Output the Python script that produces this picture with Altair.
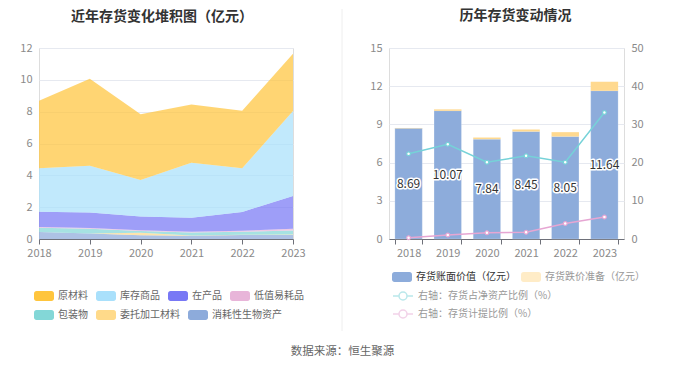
import altair as alt
import pandas as pd

years = ["2018", "2019", "2020", "2021", "2022", "2023"]

# left chart: inventory composition (亿元); legend row 1 and row 2
top_names = ["原材料", "库存商品", "在产品", "低值易耗品"]
top_colors = ["#FFC53D", "#A9E0FB", "#7878F5", "#E8B5D9"]
bottom_names = ["包装物", "委托加工材料", "消耗性生物资产"]
bottom_colors = ["#83D7D7", "#FFDA8A", "#8DABDB"]
raw_material = [4.25, 5.47, 4.14, 3.66, 3.60, 3.60]
finished_goods = [2.73, 2.93, 2.28, 3.45, 2.75, 5.34]
work_in_progress = [0.95, 0.98, 0.87, 0.88, 1.18, 2.05]
low_value = [0.05, 0.05, 0.05, 0.05, 0.06, 0.12]
packaging = [0.27, 0.30, 0.10, 0.19, 0.19, 0.25]
consigned = [0.00, 0.00, 0.17, 0.01, 0.02, 0.03]
bio_assets = [0.44, 0.34, 0.23, 0.21, 0.25, 0.25]

# right chart
book_value = [8.69, 10.07, 7.84, 8.45, 8.05, 11.64]
impairment = [0.03, 0.11, 0.13, 0.15, 0.34, 0.71]
ratio_net_assets = [22.3, 24.8, 20.1, 21.8, 20.1, 33.1]
provision_ratio = [0.35, 1.05, 1.66, 1.75, 4.05, 5.75]

bar_names = ["存货账面价值（亿元）", "存货跌价准备（亿元）"]
line_names = ["右轴：存货占净资产比例（%）", "右轴：存货计提比例（%）"]

# stack from bottom to top
stack_order = [
    ("消耗性生物资产", bio_assets, "bottom"),
    ("委托加工材料", consigned, "bottom"),
    ("包装物", packaging, "bottom"),
    ("低值易耗品", low_value, "top"),
    ("在产品", work_in_progress, "top"),
    ("库存商品", finished_goods, "top"),
    ("原材料", raw_material, "top"),
]
rows = []
cum = [0.0] * len(years)
for name, vals, grp in stack_order:
    for j, y in enumerate(years):
        rows.append({"year": y, "name": name, "grp": grp, "y0": cum[j], "y1": cum[j] + vals[j]})
    cum = [c + v for c, v in zip(cum, vals)]
df_area = pd.DataFrame(rows)

df_bar = pd.DataFrame({
    "year": years,
    "book": book_value,
    "top": [b + r for b, r in zip(book_value, impairment)],
    "mid": [b / 2 for b in book_value],
    "k1": bar_names[0],
    "k2": bar_names[1],
})
lrows = []
for name, vals in zip(line_names, [ratio_net_assets, provision_ratio]):
    for y, v in zip(years, vals):
        lrows.append({"year": y, "name": name, "value": v})
df_line = pd.DataFrame(lrows)

RECT = ("M-0.75,-0.5H0.75A0.25,0.25 0 0 1 1,-0.25V0.25A0.25,0.25 0 0 1 0.75,0.5"
        "H-0.75A0.25,0.25 0 0 1 -1,0.25V-0.25A0.25,0.25 0 0 1 -0.75,-0.5Z")
LINE_CIRCLE = ("M-1,0H-0.4M0.4,0H1M0.4,0A0.4,0.4 0 1 1 -0.4,0A0.4,0.4 0 1 1 0.4,0")

AX_LABEL = "#8a8a8a"
DOMAIN = "#6E7079"
GRID = "#E6E9F0"

x_axis = dict(title=None, labelAngle=0, domainColor=DOMAIN, tickColor=DOMAIN, tickSize=5,
              labelColor=AX_LABEL, labelFontSize=11, labelPadding=3, grid=False)
y_axis = dict(title=None, ticks=False, domain=False, grid=True, gridColor=GRID,
              labelPadding=7, labelFontSize=11, labelColor=AX_LABEL, labelOverlap=False)


def rect_legend(x, y, label_color="#666", opacity=1.0):
    return alt.Legend(title=None, orient="none", legendX=x, legendY=y, direction="horizontal",
                      columnPadding=8, symbolType=RECT, symbolSize=400, symbolOpacity=opacity,
                      symbolStrokeWidth=0, labelFontSize=10, labelColor=label_color,
                      labelOffset=4, labelLimit=300, padding=0)


W_L, W_R, H = 254, 235, 191

xl = alt.X("year:O", scale=alt.Scale(type="point", padding=0), axis=alt.Axis(**x_axis))
yl = alt.Y("y0:Q", scale=alt.Scale(domain=[0, 12], nice=False),
           axis=alt.Axis(values=[0, 2, 4, 6, 8, 10, 12], **y_axis))

area_bottom = alt.Chart(df_area).transform_filter(alt.datum.grp == "bottom").mark_area(
    opacity=0.72, interpolate="linear").encode(
    x=xl, y=yl, y2="y1:Q",
    fill=alt.Fill("name:N", scale=alt.Scale(domain=bottom_names, range=bottom_colors),
                  legend=rect_legend(-5, 257)),
)
area_top = alt.Chart(df_area).transform_filter(alt.datum.grp == "top").mark_area(
    opacity=0.72, interpolate="linear").encode(
    x=xl, y=yl, y2="y1:Q",
    color=alt.Color("name:N", scale=alt.Scale(domain=top_names, range=top_colors),
                    legend=rect_legend(-5, 238)),
)

left = alt.layer(area_bottom, area_top).properties(
    width=W_L, height=H,
    title=alt.TitleParams("近年存货变化堆积图（亿元）", frame="group", anchor="middle", dx=-4,
                          fontSize=14, fontWeight="bold", color="#333", offset=18),
)

xr = alt.X("year:O", scale=alt.Scale(paddingInner=0.3, paddingOuter=0.15),
           axis=alt.Axis(tickBand="extent", **x_axis))
yscale = alt.Scale(domain=[0, 15], nice=False)
yaxis_r = alt.Axis(values=[0, 3, 6, 9, 12, 15], orient="left", **y_axis)

bars = alt.Chart(df_bar).mark_bar(stroke="white", strokeOpacity=0.4, strokeWidth=0.5).encode(
    x=xr,
    y=alt.Y("book:Q", scale=yscale, axis=yaxis_r),
    color=alt.Color("k1:N", scale=alt.Scale(domain=[bar_names[0]], range=["#8DACDB"]),
                    legend=rect_legend(3, 219, label_color="#333")),
)
reserve = alt.Chart(df_bar).mark_bar().encode(
    x=xr,
    y=alt.Y("book:Q", scale=yscale, axis=yaxis_r),
    y2="top:Q",
    fill=alt.Fill("k2:N", scale=alt.Scale(domain=[bar_names[1]], range=["#FFD98F"]),
                  legend=rect_legend(132, 219, label_color="#999", opacity=0.5)),
)
halo = alt.Chart(df_bar).mark_text(fontSize=12, stroke="white", strokeWidth=3, strokeJoin="round",
                                   fill="white").encode(
    x=xr, y=alt.Y("mid:Q", scale=yscale, axis=yaxis_r), text=alt.Text("book:Q", format=".2f"))
labels = alt.Chart(df_bar).mark_text(fontSize=12, color="#333").encode(
    x=xr, y=alt.Y("mid:Q", scale=yscale, axis=yaxis_r), text=alt.Text("book:Q", format=".2f"))
sep = alt.Chart(pd.DataFrame({"a": [0]})).mark_rule(color="#EEEEEE", strokeWidth=1).encode(
    x=alt.value(-47), y=alt.value(-39), y2=alt.value(283))

bar_group = alt.layer(sep, bars, reserve, halo, labels)

lines = alt.Chart(df_line).mark_line(
    strokeWidth=1.5,
    point=alt.OverlayMarkDef(shape="circle", size=14, filled=True, fill="white", strokeWidth=1.2),
).encode(
    x=xr,
    y=alt.Y("value:Q", scale=alt.Scale(domain=[0, 50], nice=False),
            axis=alt.Axis(values=[0, 10, 20, 30, 40, 50], orient="right", title=None, ticks=False,
                          domain=False, grid=False, labelPadding=7, labelFontSize=11,
                          labelColor=AX_LABEL, labelOverlap=False)),
    stroke=alt.Stroke("name:N", scale=alt.Scale(domain=line_names, range=["#76D2D8", "#E6A6D3"]),
                      legend=alt.Legend(title=None, orient="none", legendX=3, legendY=237,
                                        direction="vertical", rowPadding=-2,
                                        symbolType=LINE_CIRCLE, symbolSize=400,
                                        symbolStrokeWidth=1.5, symbolOpacity=0.5,
                                        symbolFillColor="white",
                                        labelFontSize=10, labelColor="#999", labelOffset=4,
                                        labelLimit=300, padding=0)),
)

right = alt.layer(bar_group, lines).resolve_scale(y="independent").properties(
    width=W_R, height=H,
    title=alt.TitleParams("历年存货变动情况", frame="group", anchor="middle", dx=9,
                          fontSize=14, fontWeight="bold", color="#333", offset=-14),
)

chart = alt.hconcat(left, right, spacing=96, bounds="flush").resolve_scale(
    color="independent", fill="independent", stroke="independent"
).resolve_legend(
    color="independent", fill="independent", stroke="independent"
).properties(
    title=alt.TitleParams("数据来源：恒生聚源", orient="bottom", anchor="middle", dx=10,
                          fontSize=11.5, fontWeight="normal", color="#666", offset=14),
    padding={"left": 11, "top": 0, "right": 0, "bottom": 0},
).configure_view(stroke=None).configure(font="Noto Sans CJK SC")

chart.save("out.html", embed_options={"renderer": "svg", "actions": False})
